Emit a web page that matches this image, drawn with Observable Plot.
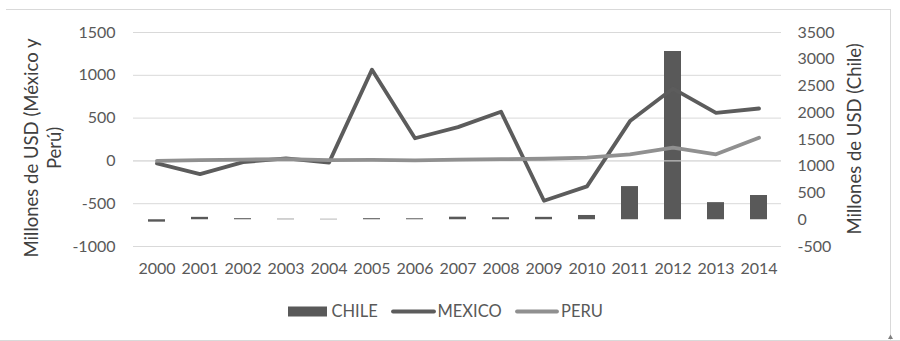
<!DOCTYPE html>
<html>
<head>
<meta charset="utf-8">
<script src="https://cdn.jsdelivr.net/npm/d3@7"></script>
<script src="https://cdn.jsdelivr.net/npm/@observablehq/plot@0.6"></script>
<style>
  body { margin: 0; background: #fff; }
  svg { display: block; }
</style>
</head>
<body>
<div id="chart"></div>
<script>
// Inversión en millones de USD, 2000–2014
const years = ["2000","2001","2002","2003","2004","2005","2006","2007","2008","2009","2010","2011","2012","2013","2014"];
const chile = [-45, 45, 20, 10, 8, 20, 18, 48, 38, 45, 80, 620, 3145, 320, 453];
const mexico = [-30, -155, -15, 30, -20, 1066, 265, 395, 575, -465, -298, 465, 845, 562, 612];
const peru = [0, 10, 15, 20, 10, 12, 5, 15, 20, 25, 38, 75, 155, 77, 270];

const leftTicks = [-1000, -500, 0, 500, 1000, 1500];
const rightTicks = [-500, 0, 500, 1000, 1500, 2000, 2500, 3000, 3500];

const seriesNames = ["CHILE", "MEXICO", "PERU"];
const leftTitle = ["Millones de USD (México y", "Perú)"];
const rightTitle = "Millones de USD (Chile)";

// Secondary axis (Chile, -500..3500) expressed on the primary axis (-1000..1500)
const toLeft = v => -1000 + (v + 500) * 2500 / 4000;
const toRight = v => Math.round((v + 1000) * 4000 / 2500 - 500);

const rows = years.map((year, i) => ({year, chile: chile[i], mexico: mexico[i], peru: peru[i]}));

const barColor = "#595959";
const mexColor = "#5c5c5c";
const peruColor = "#909090";
const gridColor = "#d9d9d9";
const font = "Lato, 'Open Sans', sans-serif";

const chart = Plot.plot({
  width: 900,
  height: 341,
  marginLeft: 133,
  marginRight: 119,
  marginTop: 32,
  marginBottom: 95,
  style: {fontFamily: font, fontSize: "16px", color: "#595959", background: "#fff"},
  x: {type: "band", domain: years, padding: 0, label: null},
  y: {domain: [-1000, 1500], label: null},
  marks: [
    Plot.ruleY(leftTicks, {stroke: gridColor, strokeWidth: 1}),
    Plot.barY(rows, {x: "year", y1: () => toLeft(0), y2: d => toLeft(d.chile), fill: barColor, insetLeft: 13, insetRight: 13}),
    Plot.ruleY([0], {stroke: gridColor, strokeWidth: 1}),
    Plot.lineY(rows, {x: "year", y: "mexico", stroke: mexColor, strokeWidth: 3.8}),
    Plot.lineY(rows, {x: "year", y: "peru", stroke: peruColor, strokeWidth: 3.8}),
    Plot.axisY(leftTicks, {anchor: "left", tickSize: 0, tickPadding: 18, tickFormat: d => String(d), label: null}),
    Plot.axisY(rightTicks.map(toLeft), {anchor: "right", tickSize: 0, tickPadding: 16, tickFormat: d => String(toRight(d)), label: null}),
    Plot.axisX({tickSize: 0, tickPadding: 16, label: null})
  ]
});

document.getElementById("chart").appendChild(chart);

const svg = d3.select(chart);

// chart frame
svg.append("line").attr("x1", 6).attr("x2", 891).attr("y1", 9.5).attr("y2", 9.5).attr("stroke", gridColor);
svg.append("line").attr("x1", 0).attr("x2", 900).attr("y1", 340.5).attr("y2", 340.5).attr("stroke", gridColor);
svg.append("line").attr("x1", 890.5).attr("x2", 890.5).attr("y1", 9).attr("y2", 341).attr("stroke", gridColor);
svg.append("path").attr("d", "M888,339 L890.5,334.5 L893,339 Z").attr("fill", "#7f7f7f");

// axis titles
const titles = svg.append("g").attr("font-family", font).attr("font-size", 18.5).attr("fill", "#404040").attr("text-anchor", "middle");
titles.append("text").attr("transform", "translate(32,148) rotate(-90)").attr("dy", "0.35em").text(leftTitle[0]);
titles.append("text").attr("transform", "translate(55,148) rotate(-90)").attr("dy", "0.35em").text(leftTitle[1]);
titles.append("text").attr("transform", "translate(855,139) rotate(-90)").attr("dy", "0.35em").text(rightTitle);

// legend
const legend = svg.append("g").attr("font-family", font).attr("font-size", 16.5).attr("fill", "#595959").attr("text-anchor", "start");
legend.append("rect").attr("x", 288).attr("y", 306.5).attr("width", 39).attr("height", 10).attr("fill", barColor);
legend.append("text").attr("x", 331.5).attr("y", 316.7).text(seriesNames[0]);
legend.append("line").attr("x1", 393).attr("x2", 434).attr("y1", 311.5).attr("y2", 311.5).attr("stroke", mexColor).attr("stroke-width", 3.8).attr("stroke-linecap", "round");
legend.append("text").attr("x", 437.5).attr("y", 316.7).text(seriesNames[1]);
legend.append("line").attr("x1", 517).attr("x2", 557).attr("y1", 311.5).attr("y2", 311.5).attr("stroke", peruColor).attr("stroke-width", 3.8).attr("stroke-linecap", "round");
legend.append("text").attr("x", 561).attr("y", 316.7).text(seriesNames[2]);
</script>
</body>
</html>
